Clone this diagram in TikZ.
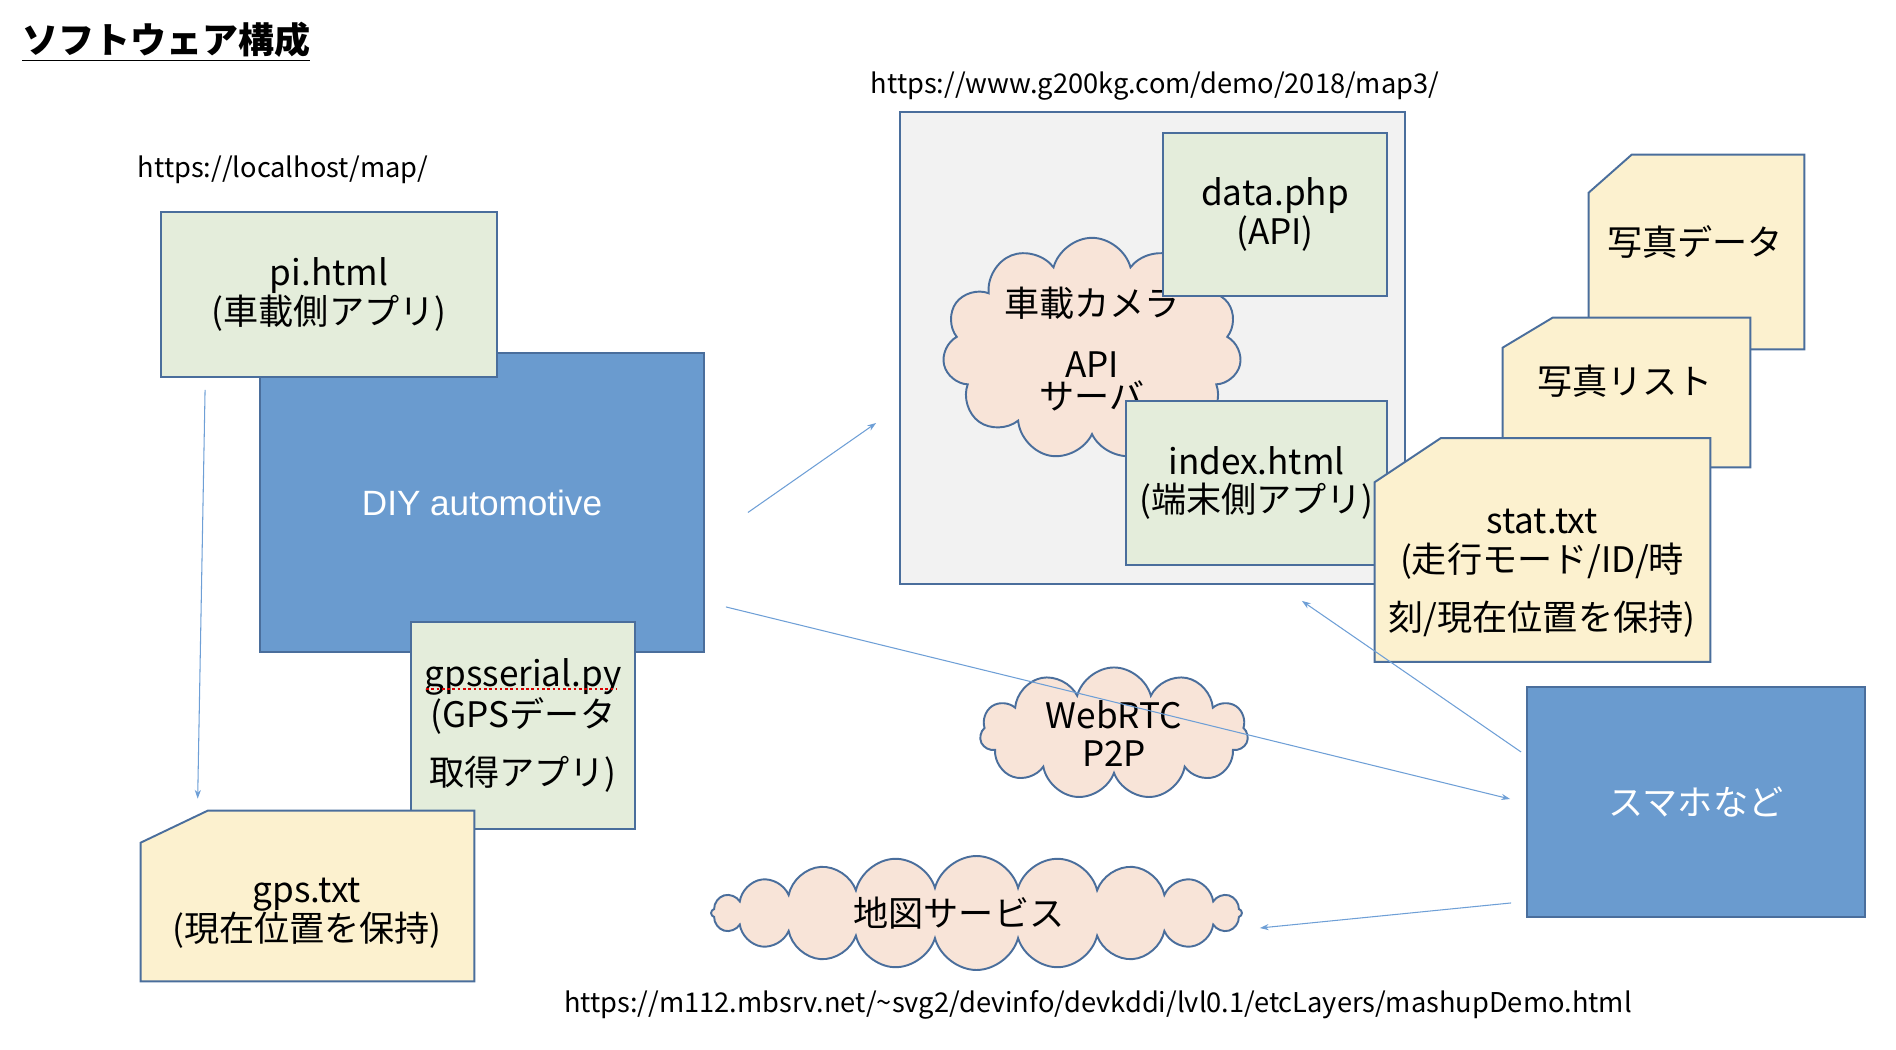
\documentclass[tikz,border=0pt]{standalone}
\usepackage{fontspec}
\setmainfont{Noto Sans CJK JP}
\newfontfamily\helv{Liberation Sans}
\usepackage{tikz}
\usetikzlibrary{arrows.meta,shapes.symbols}
\definecolor{boxline}{HTML}{4A6E9C}
\definecolor{boxblue}{HTML}{6A9BCF}
\definecolor{boxgreen}{HTML}{E4EDDB}
\definecolor{fileyellow}{HTML}{FCF1CF}
\definecolor{cloudpeach}{HTML}{F8E4D8}
\definecolor{servergray}{HTML}{F2F2F2}
\definecolor{arrowblue}{HTML}{6E9FD6}
\tikzset{
	base/.style={draw=boxline, line width=1.1pt, inner sep=0pt, align=center,
		font=\fontsize{20}{22}\selectfont},
	greenbox/.style={base, fill=boxgreen},
	bluebox/.style={base, fill=boxblue, text=white},
	serverbox/.style={base, fill=servergray},
	filearea/.style={inner sep=0pt},
	fileline/.style={draw=boxline, line width=1.1pt, fill=fileyellow, line join=miter},
	bubble/.style={base, cloud, cloud puffs=11, cloud ignores aspect, fill=cloudpeach},
	filetext/.style={align=center, inner sep=0pt, font=\fontsize{20}{22}\selectfont},
	url/.style={inner sep=0pt, font=\fontsize{15.5}{18}\selectfont},
	conn/.style={draw=arrowblue, line width=0.6pt, -{Stealth[length=5pt,width=3.5pt]}},
	spellmark/.style={draw=red!85!black, line width=1.3pt, dash pattern=on 1.5pt off 1.5pt},
}
\begin{document}
\begin{tikzpicture}[x=0.02cm, y=-0.02cm]
	\useasboundingbox (0,0) rectangle (1896,1050);

	% headings and addresses
	\node[anchor=west, inner sep=0pt, font=\bfseries\fontsize{20.5}{22}\selectfont] (title) at (22,42) {\underline{ソフトウェア構成}};
	\node[url] (url-local) at (283,170) {https://localhost/map/};
	\node[url] (url-server) at (1155,86) {https://www.g200kg.com/demo/2018/map3/};
	\node[url] (url-map) at (1098,1005) {https://m112.mbsrv.net/\textasciitilde svg2/devinfo/devkddi/lvl0.1/etcLayers/mashupDemo.html};

	% car side
	\node[bluebox, minimum width=8.88cm, minimum height=5.98cm, font=\helv\fontsize{20}{22}\selectfont] (diy) at (482,502.5) {DIY automotive};
	\node[greenbox, minimum width=6.72cm, minimum height=3.3cm] (pi) at (329,294.5) {pi.html\\(車載側アプリ)};
	\node[greenbox, minimum width=4.48cm, minimum height=4.14cm] (gpsser) at (523,725.5) {gpsserial.py\\(GPSデータ\\[11pt]取得アプリ)};
	\draw[spellmark] ([shift={(16,68)}]gpsser.north west) -- ([shift={(207,68)}]gpsser.north west);
	\node[filearea, minimum width=6.66cm, minimum height=3.4cm] (gps) at (307.5,896) {};
	\filldraw[fileline] ([xshift=1.34cm]gps.north west) -- (gps.north east) -- (gps.south east) -- (gps.south west) -- ([yshift=-0.64cm]gps.north west) -- cycle;
	\node[filetext] (gps-t) at (307,913) {gps.txt\\(現在位置を保持)};

	% server side
	\node[serverbox, minimum width=10.1cm, minimum height=9.44cm] (server) at (1152.5,348) {};
	\node[bubble, minimum width=5.98cm, minimum height=3.56cm, font=\fontsize{20}{18}\selectfont] (camera) at (1092,349) {車載カメラ\\[17pt]API\\サーバ};
	\node[greenbox, minimum width=4.48cm, minimum height=3.26cm] (data) at (1275,214.5) {data.php\\(API)};
	\node[greenbox, minimum width=5.22cm, minimum height=3.28cm] (index) at (1256.5,483) {index.html\\(端末側アプリ)};

	% stored files
	\node[filearea, minimum width=4.3cm, minimum height=3.88cm] (photo) at (1696.5,252) {};
	\filldraw[fileline] ([xshift=0.86cm]photo.north west) -- (photo.north east) -- (photo.south east) -- (photo.south west) -- ([yshift=-0.76cm]photo.north west) -- cycle;
	\node[filetext] (photo-t) at (1695,242) {写真データ};
	\node[filearea, minimum width=4.94cm, minimum height=2.98cm] (list) at (1626.5,392.5) {};
	\filldraw[fileline] ([xshift=1.0cm]list.north west) -- (list.north east) -- (list.south east) -- (list.south west) -- ([yshift=-0.6cm]list.north west) -- cycle;
	\node[filetext] (list-t) at (1625,381) {写真リスト};
	\node[filearea, minimum width=6.7cm, minimum height=4.46cm] (stat) at (1542.5,550) {};
	\filldraw[fileline] ([xshift=1.32cm]stat.north west) -- (stat.north east) -- (stat.south east) -- (stat.south west) -- ([yshift=-0.88cm]stat.north west) -- cycle;
	\node[filetext] (stat-t) at (1542,573) {stat.txt\\(走行モード/ID/時\\[11pt]刻/現在位置を保持)};

	% terminal side
	\node[bluebox, minimum width=6.76cm, minimum height=4.6cm] (phone) at (1696,802) {スマホなど};
	\node[bubble, minimum width=5.36cm, minimum height=2.58cm] (webrtc) at (1114,733.5) {WebRTC\\P2P};
	\node[bubble, minimum width=10.62cm, minimum height=2.28cm, cloud puffs=20] (mapsvc) at (976.5,913) {\hspace*{-20pt}地図サービス};

	% connections
	\draw[conn] ([shift={(45,12)}]pi.south west) -- ([shift={(57,-12)}]gps.north west);
	\draw[conn] ([shift={(43,10)}]diy.east) -- ([shift={(-23,75)}]server.west);
	\draw[conn] ([shift={(21,-46)}]diy.south east) -- ([shift={(-16,-3)}]phone.west);
	\draw[conn] ([shift={(-5,-50)}]phone.west) -- ([shift={(-104,16)}]server.south east);
	\draw[conn] ([shift={(-15,-15)}]phone.south west) -- ([shift={(17,15)}]mapsvc.east);
\end{tikzpicture}
\end{document}
